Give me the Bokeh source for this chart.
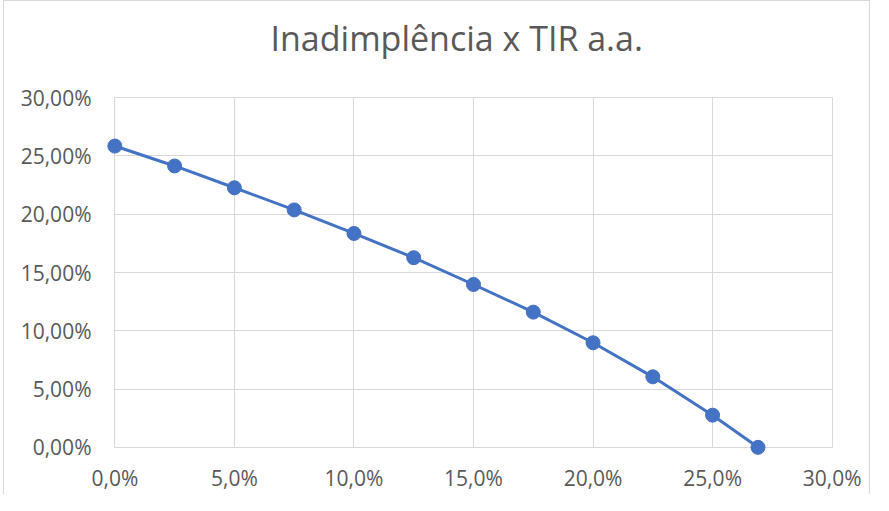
from bokeh.plotting import figure
from bokeh.models import Range1d, FixedTicker, CustomJSTickFormatter, Grid
from bokeh.embed import file_html
from bokeh.resources import INLINE

# Data (percent)
inadimplencia = [0.0, 2.5, 5.0, 7.5, 10.0, 12.5, 15.0, 17.5, 20.0, 22.5, 25.0, 26.9]
tir_aa = [25.85, 24.14, 22.27, 20.37, 18.35, 16.27, 13.97, 11.6, 8.97, 6.05, 2.76, 0.0]
x_ticks = [0, 5, 10, 15, 20, 25, 30]
y_ticks = [0, 5, 10, 15, 20, 25, 30]

TXT = "#595959"
GRID = "#d9d9d9"
BLUE = "#4472C4"
FONT = "Open Sans"

p = figure(width=867, height=494, output_backend="svg", toolbar_location=None,
           x_range=Range1d(-0.35, 30.35), y_range=Range1d(-0.7, 30.7),
           min_border_left=102, min_border_right=31, min_border_top=88, min_border_bottom=40,
           title="Inadimplência x TIR a.a.")
p.styles = {"border-top": "1px solid #d9d9d9", "border-left": "1px solid #d9d9d9",
            "border-right": "1px solid #d9d9d9", "margin-left": "3px"}
p.outline_line_color = None
p.background_fill_color = "white"
p.border_fill_color = "white"

p.title.align = "left"
p.title.offset = 164
p.title.standoff = 23
p.title.padding = {"left": 0, "right": 0, "top": 0, "bottom": 17}
p.title.text_font = FONT
p.title.text_font_size = "34px"
p.title.text_font_style = "normal"
p.title.text_color = TXT

p.xgrid.visible = False
p.ygrid.visible = False
gx = Grid(dimension=0, ticker=FixedTicker(ticks=x_ticks), cross_bounds=(0, 30),
          grid_line_color=GRID, grid_line_width=1)
gy = Grid(dimension=1, ticker=FixedTicker(ticks=y_ticks), cross_bounds=(0, 30),
          grid_line_color=GRID, grid_line_width=1)
p.add_layout(gx, "center")
p.add_layout(gy, "center")

for ax, ticks, digits, standoff in ((p.xaxis[0], x_ticks, 1, 8), (p.yaxis[0], y_ticks, 2, 15)):
    ax.ticker = FixedTicker(ticks=ticks)
    ax.formatter = CustomJSTickFormatter(code=f"return tick.toFixed({digits}).replace('.', ',') + '%';")
    ax.axis_line_color = None
    ax.major_tick_line_color = None
    ax.minor_tick_line_color = None
    ax.major_tick_out = 0
    ax.major_tick_in = 0
    ax.major_label_standoff = standoff
    ax.major_label_text_font = FONT
    ax.major_label_text_font_size = "21px"
    ax.major_label_text_color = TXT

p.line(inadimplencia, tir_aa, line_color=BLUE, line_width=3)
p.scatter(inadimplencia, tir_aa, size=14, fill_color=BLUE, line_color=BLUE)

open("out.html", "w").write(file_html(p, INLINE))
